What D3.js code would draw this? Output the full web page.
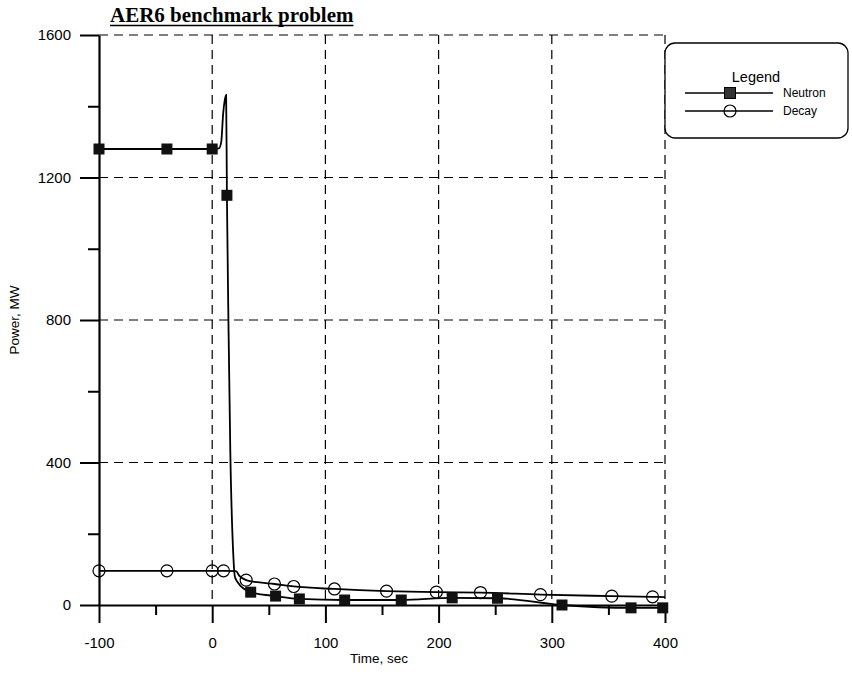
<!DOCTYPE html>
<html>
<head>
<meta charset="utf-8">
<script src="https://cdn.jsdelivr.net/npm/d3@7"></script>
<style>
  html, body { margin: 0; padding: 0; background: #fff; }
  svg { display: block; }
  text { fill: #000; }
</style>
</head>
<body>
<svg id="chart" width="852" height="676"></svg>
<script>
// ---------- data ----------
const titleText = "AER6 benchmark problem";
const xLabel = "Time, sec";
const yLabel = "Power, MW";
const xTicks = [-100, 0, 100, 200, 300, 400];
const xMinorTicks = [-50, 50, 150, 250, 350];
const yTicks = [0, 400, 800, 1200, 1600];
const yMinorTicks = [200, 600, 1000, 1400];
const seriesNames = ["Neutron", "Decay"];

// Neutron line
const neutronTime  = [-100, -40, 0, 6, 8, 9.7, 11, 12.3, 13, 14.5, 16, 18.5, 20, 22, 34, 56, 77, 117, 167, 212, 252, 309, 370, 400];
const neutronPower = [1280, 1280, 1280, 1282, 1300, 1380, 1415, 1432, 1150, 760, 430, 150, 80, 66, 36, 25, 17, 14, 14, 20, 19, 0, -8, -8];
// Neutron markers
const neutronMarkTime  = [-100, -40, 0, 13, 34, 56, 77, 117, 167, 212, 252, 309, 370, 398];
const neutronMarkPower = [1280, 1280, 1280, 1150, 36, 25, 17, 14, 14, 20, 19, 0, -8, -8];

// Decay line
const decayTime  = [-100, -40, 0, 10, 21, 24, 30, 40, 55, 72, 108, 154, 198, 237, 290, 353, 389, 400];
const decayPower = [96, 96, 96, 96, 95, 82, 70, 64, 59, 52, 45, 39, 36, 35, 29, 25, 23, 22];
// Decay markers
const decayMarkTime  = [-100, -40, 0, 10, 30, 55, 72, 108, 154, 198, 237, 290, 353, 389];
const decayMarkPower = [96, 96, 96, 96, 70, 59, 52, 45, 39, 36, 35, 29, 25, 23];

// ---------- layout ----------
const SANS = "Arial, 'Liberation Sans', sans-serif";
const SERIF = "'Times New Roman', 'Liberation Serif', serif";
const svg = d3.select("#chart");
const x = d3.scaleLinear().domain([-100, 400]).range([99, 665]);
const y = d3.scaleLinear().domain([0, 1600]).range([605, 35]);

// grid (dashed)
const grid = svg.append("g").attr("stroke", "#000").attr("stroke-width", 1.2)
  .attr("stroke-dasharray", "9,6").attr("fill", "none");
grid.selectAll("line.h").data(yTicks.filter(d => d > 0)).join("line")
  .attr("x1", x(-100)).attr("x2", x(400))
  .attr("y1", d => y(d)).attr("y2", d => y(d));
grid.selectAll("line.v").data(xTicks.filter(d => d > -100)).join("line")
  .attr("y1", y(1600)).attr("y2", y(0))
  .attr("x1", d => x(d)).attr("x2", d => x(d));

// axes
const axisFont = 15;
const fmt = d => String(d);
svg.append("g").attr("transform", `translate(${x(-100)},0)`)
  .call(d3.axisLeft(y).tickValues(yTicks).tickSize(19).tickSizeOuter(0).tickPadding(9).tickFormat(fmt));
const yMinor = svg.append("g").attr("transform", `translate(${x(-100)},0)`)
  .call(d3.axisLeft(y).tickValues(yMinorTicks).tickSize(11).tickSizeOuter(0).tickFormat(""));
yMinor.select(".domain").remove();

svg.append("g").attr("transform", `translate(0,${y(0)})`)
  .call(d3.axisBottom(x).tickValues(xTicks).tickSize(18).tickSizeOuter(0).tickPadding(14).tickFormat(fmt));
const xMinor = svg.append("g").attr("transform", `translate(0,${y(0)})`)
  .call(d3.axisBottom(x).tickValues(xMinorTicks).tickSize(10).tickSizeOuter(0).tickFormat(""));
xMinor.select(".domain").remove();

svg.selectAll(".domain").attr("stroke", "#000").attr("stroke-width", 2.2);
svg.selectAll(".tick line").attr("stroke", "#000").attr("stroke-width", 2);
svg.selectAll(".tick text").style("font-size", axisFont + "px")
  .style("font-family", SANS).attr("fill", "#000");

// axis titles
svg.append("text").attr("x", 379).attr("y", 663).attr("text-anchor", "middle")
  .style("font-family", SANS).style("font-size", "13.5px").text(xLabel);
svg.append("text").attr("transform", `translate(19,${(y(0)+y(1600))/2}) rotate(-90)`)
  .attr("text-anchor", "middle").style("font-family", SANS).style("font-size", "13.5px").text(yLabel);

// title
const title = svg.append("text").attr("x", 110).attr("y", 22)
  .style("font-family", SERIF).style("font-weight", "bold").style("font-size", "21px").text(titleText);
const tw = title.node().getComputedTextLength();
svg.append("line").attr("x1", 110).attr("x2", 110 + tw).attr("y1", 25.5).attr("y2", 25.5)
  .attr("stroke", "#000").attr("stroke-width", 1.5);

// lines
const line = d3.line().x(d => x(d[0])).y(d => y(d[1])).curve(d3.curveMonotoneX);
const neutronData = neutronTime.map((t, i) => [t, neutronPower[i]]);
const decayData = decayTime.map((t, i) => [t, decayPower[i]]);
svg.append("path").datum(decayData).attr("d", line)
  .attr("fill", "none").attr("stroke", "#000").attr("stroke-width", 1.8);
svg.append("path").datum(neutronData).attr("d", line)
  .attr("fill", "none").attr("stroke", "#000").attr("stroke-width", 1.8);

// markers
const sq = 11;
svg.append("g").selectAll("rect").data(neutronMarkTime.map((t, i) => [t, neutronMarkPower[i]])).join("rect")
  .attr("x", d => x(d[0]) - sq/2).attr("y", d => y(d[1]) - sq/2)
  .attr("width", sq).attr("height", sq).attr("fill", "#111");
svg.append("g").selectAll("circle").data(decayMarkTime.map((t, i) => [t, decayMarkPower[i]])).join("circle")
  .attr("cx", d => x(d[0])).attr("cy", d => y(d[1])).attr("r", 6)
  .attr("fill", "none").attr("stroke", "#000").attr("stroke-width", 1.2);

// legend
const lg = svg.append("g");
lg.append("rect").attr("x", 665).attr("y", 43).attr("width", 183).attr("height", 95)
  .attr("rx", 10).attr("ry", 10).attr("fill", "#fff").attr("stroke", "#000").attr("stroke-width", 1.3);
lg.append("text").attr("x", 756).attr("y", 82).attr("text-anchor", "middle")
  .style("font-family", SANS).style("font-size", "14.5px").text("Legend");
const rows = [93, 111];
seriesNames.forEach((name, i) => {
  const ry = rows[i];
  lg.append("line").attr("x1", 685).attr("x2", 773).attr("y1", ry).attr("y2", ry)
    .attr("stroke", "#000").attr("stroke-width", 1.5);
  if (i === 0) {
    lg.append("rect").attr("x", 730 - 5.5).attr("y", ry - 5.5).attr("width", 11).attr("height", 11)
      .attr("fill", "#333").attr("stroke", "#000");
  } else {
    lg.append("circle").attr("cx", 730).attr("cy", ry).attr("r", 6)
      .attr("fill", "none").attr("stroke", "#000").attr("stroke-width", 1.2);
  }
  lg.append("text").attr("x", 783).attr("y", ry + 4).style("font-family", SANS)
    .style("font-size", "12px").text(name);
});
</script>
</body>
</html>
